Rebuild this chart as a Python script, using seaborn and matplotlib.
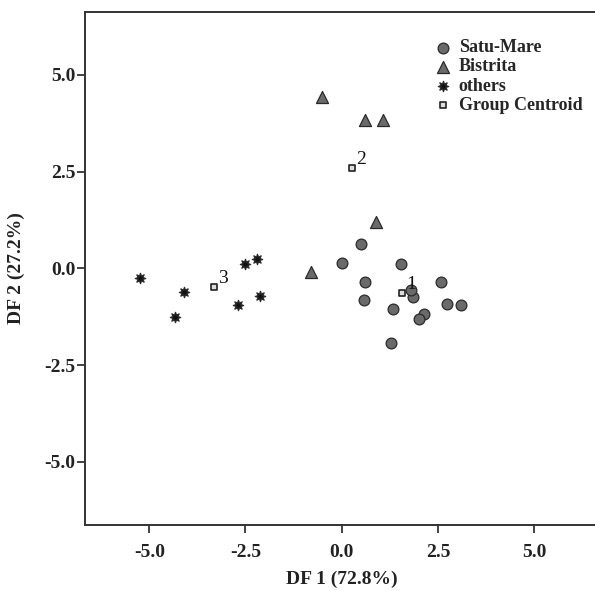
import numpy as np
import pandas as pd
import seaborn as sns
import matplotlib.pyplot as plt

# discriminant scores
satu_x = [0.49, 0.01, 1.55, 0.61, 0.59, 2.57, 1.86, 1.80, 1.34, 2.73, 3.10, 2.14, 2.02, 1.29]
satu_y = [0.62, 0.14, 0.10, -0.36, -0.82, -0.35, -0.73, -0.57, -1.06, -0.92, -0.96, -1.19, -1.30, -1.93]
bist_x = [-0.51, 0.61, 1.08, 0.89, -0.81]
bist_y = [4.43, 3.84, 3.84, 1.19, -0.09]
oth_x = [-5.23, -4.09, -4.34, -2.52, -2.21, -2.13, -2.69]
oth_y = [-0.25, -0.60, -1.25, 0.12, 0.23, -0.72, -0.95]
cent_x = [1.58, 0.26, -3.31]
cent_y = [-0.65, 2.58, -0.48]
cent_lab = ['1', '2', '3']
groups = ['Satu-Mare', 'Bistrita', 'others']

df = pd.DataFrame({
    'DF1': satu_x + bist_x + oth_x,
    'DF2': satu_y + bist_y + oth_y,
    'group': ['Satu-Mare'] * len(satu_x) + ['Bistrita'] * len(bist_x) + ['others'] * len(oth_x),
})
cent = pd.DataFrame({'DF1': cent_x, 'DF2': cent_y, 'lab': cent_lab})

sns.set_style('white')
plt.rcParams['font.family'] = ['Liberation Serif', 'DejaVu Serif']

fig = plt.figure(figsize=(5.95, 5.91), dpi=100)
ax = fig.add_axes([85 / 595, 66 / 591, 513 / 595, 513 / 591])

pal = {'Satu-Mare': '#6a6a6a', 'Bistrita': '#6a6a6a', 'others': '#111111'}
mk = {'Satu-Mare': 'o', 'Bistrita': '^', 'others': (8, 1, 0)}
sizes = {'Satu-Mare': 60, 'Bistrita': 75, 'others': 55}
for g in groups:
    sub = df[df['group'] == g]
    sns.scatterplot(data=sub, x='DF1', y='DF2', color=pal[g], marker=mk[g], s=sizes[g],
                    edgecolor='#2a2a2a', linewidth=0.9, label=g, ax=ax, zorder=3)
sns.scatterplot(data=cent, x='DF1', y='DF2', marker='s', s=22, color='#dddddd',
                edgecolor='#222222', linewidth=1.2, label='Group Centroid', ax=ax, zorder=4)
for _, r in cent.iterrows():
    ax.annotate(r['lab'], (r['DF1'], r['DF2']), xytext=(3, 3), textcoords='offset points',
                fontsize=14, color='#111111', zorder=5)

ax.set_xlim(-6.67, 6.66)
ax.set_ylim(-6.63, 6.62)
ticks = [-5.0, -2.5, 0.0, 2.5, 5.0]
ax.set_xticks(ticks)
ax.set_yticks(ticks)
ax.set_xticklabels([f'{t:.1f}' for t in ticks], fontsize=14, fontweight='bold')
ax.set_yticklabels([f'{t:.1f}' for t in ticks], fontsize=14, fontweight='bold')
ax.tick_params(axis='x', pad=8)
ax.tick_params(axis='y', pad=1)
ax.tick_params(direction='out', length=6, width=1.2, color='#222222', labelcolor='#222222',
               bottom=True, left=True)
for side in ['left', 'bottom', 'top']:
    ax.spines[side].set_color('#333333')
    ax.spines[side].set_linewidth(1.4)
ax.spines['right'].set_visible(False)
ax.set_xlabel('DF 1 (72.8%)', fontsize=14, fontweight='bold', color='#222222', labelpad=7)
ax.set_ylabel('DF 2 (27.2%)', fontsize=14, fontweight='bold', color='#222222', labelpad=14)

handles, labels = ax.get_legend_handles_labels()
ax.legend(handles, labels, loc='upper left', bbox_to_anchor=(0.66, 0.968), frameon=False,
          prop={'size': 13, 'weight': 'bold'}, handletextpad=0.35, labelspacing=0.12,
          handlelength=1.0, borderaxespad=0.2)

plt.savefig('out.png', dpi=100)
